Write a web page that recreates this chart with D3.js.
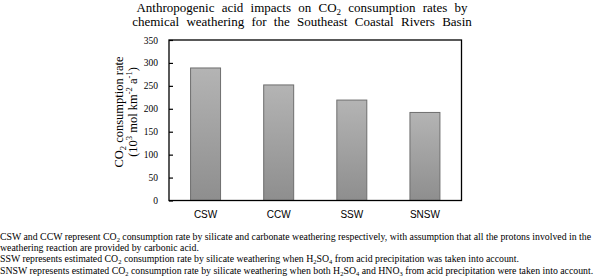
<!DOCTYPE html>
<head>
<meta charset="utf-8">
<script src="https://d3js.org/d3.v7.min.js"></script>
<style>
  body { margin: 0; background: #fff; }
</style>
</head>
<body>
<svg width="600" height="278"></svg>
<script>
// chart values
const categories = ["CSW", "CCW", "SSW", "SNSW"];
const rates = [289, 252, 219, 192];
const yTicks = [0, 50, 100, 150, 200, 250, 300, 350];
const titleLines = [
  [["Anthropogenic acid impacts on CO", ""], ["2", "sub"], [" consumption rates by", ""]],
  [["chemical weathering for the Southeast Coastal Rivers Basin", ""]]
];
const notes = [
  [["CSW and CCW represent CO", ""], ["2", "sub"], [" consumption rate by silicate and carbonate weathering respectively, with assumption that all the protons involved in the", ""]],
  [["weathering reaction are provided by carbonic acid.", ""]],
  [["SSW represents estimated CO", ""], ["2", "sub"], [" consumption rate by silicate weathering when H", ""], ["2", "sub"], ["SO", ""], ["4", "sub"], [" from acid precipitation was taken into account.", ""]],
  [["SNSW represents estimated CO", ""], ["2", "sub"], [" consumption rate by silicate weathering when both H", ""], ["2", "sub"], ["SO", ""], ["4", "sub"], [" and HNO", ""], ["3", "sub"], [" from acid precipitation were taken into account.", ""]]
];
const yTitle1 = [["CO", ""], ["2", "sub"], [" consumption rate", ""]];
const yTitle2 = [["(10", ""], ["3", "sup"], [" mol km", ""], ["-2", "sup"], [" a", ""], ["-1", "sup"], [")", ""]];

const SERIF = "'Liberation Serif', 'Times New Roman', Times, serif";
const svg = d3.select("svg");
const pLeft = 169, pRight = 461.5, pTop = 40, pBottom = 200.5;

const x = d3.scaleBand().domain(categories).range([pLeft, pRight]).paddingInner(0.59).paddingOuter(0.295);
const y = d3.scaleLinear().domain([0, 350]).range([pBottom, pTop]);

// write text parts with small sub/superscripts; each piece carries its own dy
function addParts(sel, parts, small, shift) {
  let cur = 0;
  parts.forEach(([s, kind]) => {
    const target = kind === "sub" ? shift : kind === "sup" ? -shift * 1.5 : 0;
    const sp = sel.append("tspan").text(s).attr("dy", target - cur);
    if (kind) sp.attr("font-size", small);
    cur = target;
  });
}

const grad = svg.append("defs").append("linearGradient")
  .attr("id", "barGrad").attr("x1", 0).attr("y1", 0).attr("x2", 0).attr("y2", 1);
grad.append("stop").attr("offset", "0%").attr("stop-color", "#b4b4b4");
grad.append("stop").attr("offset", "100%").attr("stop-color", "#8e8e8e");

// bars
svg.selectAll("rect.bar")
  .data(rates)
  .join("rect")
  .attr("class", "bar")
  .attr("x", (d, i) => x(categories[i]))
  .attr("width", x.bandwidth())
  .attr("y", d => y(d))
  .attr("height", d => y(0) - y(d))
  .attr("fill", "url(#barGrad)")
  .attr("stroke", "#6e6e6e")
  .attr("stroke-width", 1);

// plot frame
svg.append("rect")
  .attr("x", pLeft).attr("y", pTop)
  .attr("width", pRight - pLeft).attr("height", pBottom - pTop)
  .attr("fill", "none").attr("stroke", "#000").attr("stroke-width", 1.3);

// y axis, ticks pointing inward
const yAxis = svg.append("g")
  .attr("transform", `translate(${pLeft},0)`)
  .call(d3.axisLeft(y).tickValues(yTicks).tickSizeInner(-4).tickSizeOuter(0).tickPadding(11));
yAxis.select(".domain").remove();
yAxis.attr("font-family", SERIF).attr("font-size", 9.5);
yAxis.selectAll("line").attr("stroke", "#000").attr("stroke-width", 1.2);
yAxis.selectAll("text").attr("fill", "#000");

// x category labels
svg.append("g")
  .attr("transform", `translate(0,${pBottom})`)
  .attr("font-family", "'DejaVu Sans', sans-serif")
  .attr("font-size", 9.5)
  .call(d3.axisBottom(x).tickSize(0).tickPadding(10))
  .call(g => g.select(".domain").remove())
  .selectAll("text")
  .attr("fill", "#000");

// title
titleLines.forEach((parts, i) => {
  const t = svg.append("text")
    .attr("x", 302).attr("y", 12 + i * 14)
    .attr("text-anchor", "middle")
    .attr("font-family", SERIF).attr("font-size", 13)
    .style("word-spacing", "4px")
    .attr("fill", "#000");
  addParts(t, parts, 9, 3);
});

// y axis title
const yt = svg.append("g").attr("transform", "translate(123,112) rotate(-90)");
[yTitle1, yTitle2].forEach((parts, i) => {
  const t = yt.append("text")
    .attr("x", 0).attr("y", i * 13.5)
    .attr("text-anchor", "middle")
    .attr("font-family", SERIF).attr("font-size", 12.5)
    .attr("fill", "#000");
  addParts(t, parts, 8.5, 3);
});

// footnotes
notes.forEach((parts, i) => {
  const t = svg.append("text")
    .attr("x", 0).attr("y", 240 + i * 11.2)
    .attr("font-family", SERIF).attr("font-size", 9.8)
    .attr("fill", "#000");
  addParts(t, parts, 6.5, 2);
});
</script>
</body>
